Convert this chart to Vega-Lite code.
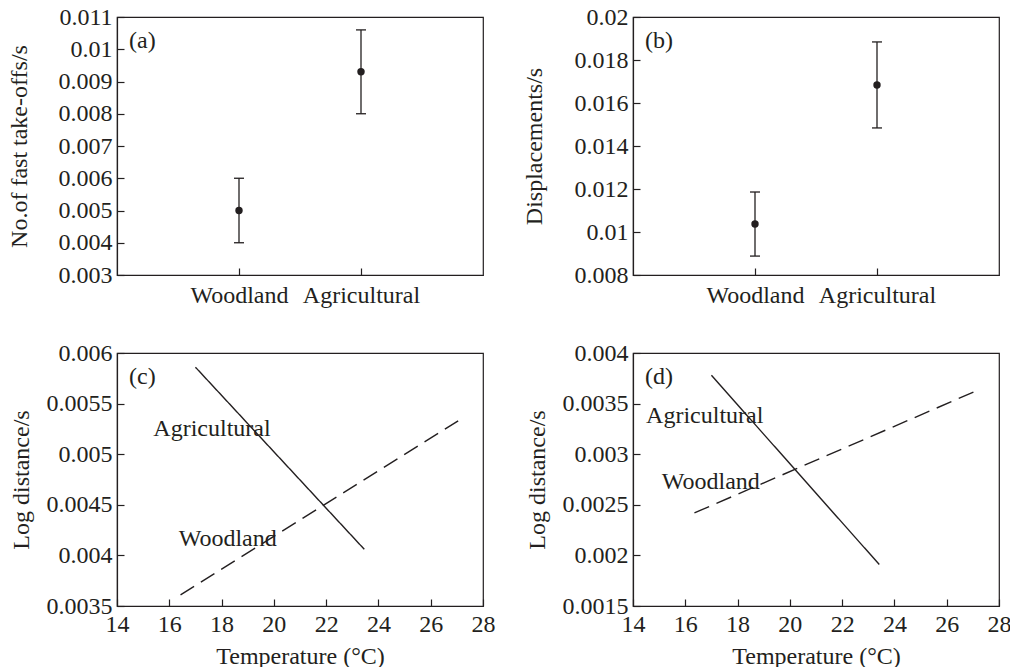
{
  "$schema": "https://vega.github.io/schema/vega-lite/v6.json",
  "padding": {"left": 6, "top": 4, "right": 2, "bottom": 0},
  "background": "white",
  "datasets": {
    "pointsA": [
      {"habitat": "Woodland", "mean": 0.005, "lo": 0.004, "hi": 0.006},
      {"habitat": "Agricultural", "mean": 0.0093, "lo": 0.008, "hi": 0.0106}
    ],
    "pointsB": [
      {"habitat": "Woodland", "mean": 0.01037, "lo": 0.00888, "hi": 0.01186},
      {"habitat": "Agricultural", "mean": 0.01684, "lo": 0.01484, "hi": 0.01884}
    ],
    "linesC": [
      {"habitat": "Agricultural", "temp": 17.0, "value": 0.00586},
      {"habitat": "Agricultural", "temp": 23.46, "value": 0.00406},
      {"habitat": "Woodland", "temp": 16.43, "value": 0.00361},
      {"habitat": "Woodland", "temp": 27.05, "value": 0.00533}
    ],
    "linesD": [
      {"habitat": "Agricultural", "temp": 17.0, "value": 0.00378},
      {"habitat": "Agricultural", "temp": 23.42, "value": 0.00191},
      {"habitat": "Woodland", "temp": 16.35, "value": 0.00242},
      {"habitat": "Woodland", "temp": 27.08, "value": 0.00362}
    ],
    "labelsC": [
      {"label": "Agricultural", "temp": 15.39, "value": 0.00518},
      {"label": "Woodland", "temp": 16.36, "value": 0.00409}
    ],
    "labelsD": [
      {"label": "Agricultural", "temp": 14.5, "value": 0.00331},
      {"label": "Woodland", "temp": 15.1, "value": 0.00266}
    ]
  },
  "config": {
    "font": "Liberation Serif",
    "view": {"stroke": "#231f20", "strokeWidth": 1.2},
    "axis": {
      "labelFont": "Liberation Serif", "titleFont": "Liberation Serif",
      "labelFontSize": 24, "titleFontSize": 24, "titleFontWeight": "normal",
      "labelColor": "#231f20", "titleColor": "#231f20",
      "domainColor": "#231f20", "tickColor": "#231f20",
      "domainWidth": 1.2, "tickWidth": 1.2, "grid": false,
      "tickSize": -7, "labelFlush": false, "labelOverlap": false
    },
    "axisY": {"labelPadding": 12},
    "axisX": {"labelPadding": 13},
    "title": {"font": "Liberation Serif", "fontSize": 24, "fontWeight": "normal", "color": "#231f20", "anchor": "start", "frame": "group", "baseline": "alphabetic", "offset": -48, "dx": 12}
  },
  "spacing": {"row": 78, "column": 150},
  "bounds": "flush",
  "columns": 2,
  "concat": [
    {
      "width": 366, "height": 258,
      "title": {"text": "(a)"},
      "data": {"name": "pointsA"},
      "encoding": {
        "x": {"field": "habitat", "type": "nominal", "sort": ["Woodland", "Agricultural"], "scale": {"type": "point", "padding": 1}, "axis": {"title": null, "labelAngle": 0, "labelPadding": 15}}
      },
      "layer": [
        {"mark": {"type": "rule", "color": "#231f20", "strokeWidth": 1.3},
         "encoding": {"y": {"field": "lo", "type": "quantitative", "scale": {"domain": [0.003, 0.011], "nice": false, "zero": false}, "axis": {"title": "No.of fast take-offs/s", "values": [0.003, 0.004, 0.005, 0.006, 0.007, 0.008, 0.009, 0.01, 0.011], "format": ".6~g", "labelOverlap": false, "titlePadding": 27}}, "y2": {"field": "hi"}}},
        {"mark": {"type": "tick", "orient": "horizontal", "size": 10, "thickness": 1.3, "color": "#231f20", "opacity": 1},
         "encoding": {"y": {"field": "lo", "type": "quantitative", "scale": {"domain": [0.003, 0.011], "nice": false, "zero": false}, "axis": {"title": "No.of fast take-offs/s", "values": [0.003, 0.004, 0.005, 0.006, 0.007, 0.008, 0.009, 0.01, 0.011], "format": ".6~g", "labelOverlap": false, "titlePadding": 27}}}},
        {"mark": {"type": "tick", "orient": "horizontal", "size": 10, "thickness": 1.3, "color": "#231f20", "opacity": 1},
         "encoding": {"y": {"field": "hi", "type": "quantitative", "scale": {"domain": [0.003, 0.011], "nice": false, "zero": false}, "axis": {"title": "No.of fast take-offs/s", "values": [0.003, 0.004, 0.005, 0.006, 0.007, 0.008, 0.009, 0.01, 0.011], "format": ".6~g", "labelOverlap": false, "titlePadding": 27}}}},
        {"mark": {"type": "point", "filled": true, "size": 55, "color": "#231f20", "opacity": 1},
         "encoding": {"y": {"field": "mean", "type": "quantitative", "scale": {"domain": [0.003, 0.011], "nice": false, "zero": false}, "axis": {"title": "No.of fast take-offs/s", "values": [0.003, 0.004, 0.005, 0.006, 0.007, 0.008, 0.009, 0.01, 0.011], "format": ".6~g", "labelOverlap": false, "titlePadding": 27}}}}
      ]
    },
    {
      "width": 366, "height": 258,
      "title": {"text": "(b)"},
      "data": {"name": "pointsB"},
      "encoding": {
        "x": {"field": "habitat", "type": "nominal", "sort": ["Woodland", "Agricultural"], "scale": {"type": "point", "padding": 1}, "axis": {"title": null, "labelAngle": 0, "labelPadding": 15}}
      },
      "layer": [
        {"mark": {"type": "rule", "color": "#231f20", "strokeWidth": 1.3},
         "encoding": {"y": {"field": "lo", "type": "quantitative", "scale": {"domain": [0.008, 0.02], "nice": false, "zero": false}, "axis": {"title": "Displacements/s", "values": [0.008, 0.01, 0.012, 0.014, 0.016, 0.018, 0.02], "format": ".6~g", "labelOverlap": false, "titlePadding": 28}}, "y2": {"field": "hi"}}},
        {"mark": {"type": "tick", "orient": "horizontal", "size": 10, "thickness": 1.3, "color": "#231f20", "opacity": 1},
         "encoding": {"y": {"field": "lo", "type": "quantitative", "scale": {"domain": [0.008, 0.02], "nice": false, "zero": false}, "axis": {"title": "Displacements/s", "values": [0.008, 0.01, 0.012, 0.014, 0.016, 0.018, 0.02], "format": ".6~g", "labelOverlap": false, "titlePadding": 28}}}},
        {"mark": {"type": "tick", "orient": "horizontal", "size": 10, "thickness": 1.3, "color": "#231f20", "opacity": 1},
         "encoding": {"y": {"field": "hi", "type": "quantitative", "scale": {"domain": [0.008, 0.02], "nice": false, "zero": false}, "axis": {"title": "Displacements/s", "values": [0.008, 0.01, 0.012, 0.014, 0.016, 0.018, 0.02], "format": ".6~g", "labelOverlap": false, "titlePadding": 28}}}},
        {"mark": {"type": "point", "filled": true, "size": 55, "color": "#231f20", "opacity": 1},
         "encoding": {"y": {"field": "mean", "type": "quantitative", "scale": {"domain": [0.008, 0.02], "nice": false, "zero": false}, "axis": {"title": "Displacements/s", "values": [0.008, 0.01, 0.012, 0.014, 0.016, 0.018, 0.02], "format": ".6~g", "labelOverlap": false, "titlePadding": 28}}}}
      ]
    },
    {
      "width": 366, "height": 253,
      "title": {"text": "(c)"},
      "layer": [
        {"data": {"name": "linesC"},
         "mark": {"type": "line", "color": "#231f20", "strokeWidth": 1.4},
         "encoding": {
           "x": {"field": "temp", "type": "quantitative", "scale": {"domain": [14, 28], "nice": false, "zero": false}, "axis": {"title": "Temperature (°C)", "values": [14, 16, 18, 20, 22, 24, 26, 28], "labelOverlap": false, "titlePadding": 8}},
           "y": {"field": "value", "type": "quantitative", "scale": {"domain": [0.0035, 0.006], "nice": false, "zero": false}, "axis": {"title": "Log distance/s", "values": [0.0035, 0.004, 0.0045, 0.005, 0.0055, 0.006], "format": ".6~g", "labelOverlap": false, "titlePadding": 13}},
           "strokeDash": {"field": "habitat", "type": "nominal", "scale": {"domain": ["Agricultural", "Woodland"], "range": [[1, 0], [16, 8]]}, "legend": null}
         }},
        {"data": {"name": "labelsC"},
         "mark": {"type": "text", "align": "left", "baseline": "alphabetic", "font": "Liberation Serif", "fontSize": 24, "color": "#231f20"},
         "encoding": {
           "x": {"field": "temp", "type": "quantitative"},
           "y": {"field": "value", "type": "quantitative"},
           "text": {"field": "label"}
         }}
      ]
    },
    {
      "width": 366, "height": 253,
      "title": {"text": "(d)"},
      "layer": [
        {"data": {"name": "linesD"},
         "mark": {"type": "line", "color": "#231f20", "strokeWidth": 1.4},
         "encoding": {
           "x": {"field": "temp", "type": "quantitative", "scale": {"domain": [14, 28], "nice": false, "zero": false}, "axis": {"title": "Temperature (°C)", "values": [14, 16, 18, 20, 22, 24, 26, 28], "labelOverlap": false, "titlePadding": 8}},
           "y": {"field": "value", "type": "quantitative", "scale": {"domain": [0.0015, 0.004], "nice": false, "zero": false}, "axis": {"title": "Log distance/s", "values": [0.0015, 0.002, 0.0025, 0.003, 0.0035, 0.004], "format": ".6~g", "labelOverlap": false, "titlePadding": 13}},
           "strokeDash": {"field": "habitat", "type": "nominal", "scale": {"domain": ["Agricultural", "Woodland"], "range": [[1, 0], [16, 8]]}, "legend": null}
         }},
        {"data": {"name": "labelsD"},
         "mark": {"type": "text", "align": "left", "baseline": "alphabetic", "font": "Liberation Serif", "fontSize": 24, "color": "#231f20"},
         "encoding": {
           "x": {"field": "temp", "type": "quantitative"},
           "y": {"field": "value", "type": "quantitative"},
           "text": {"field": "label"}
         }}
      ]
    }
  ]
}
